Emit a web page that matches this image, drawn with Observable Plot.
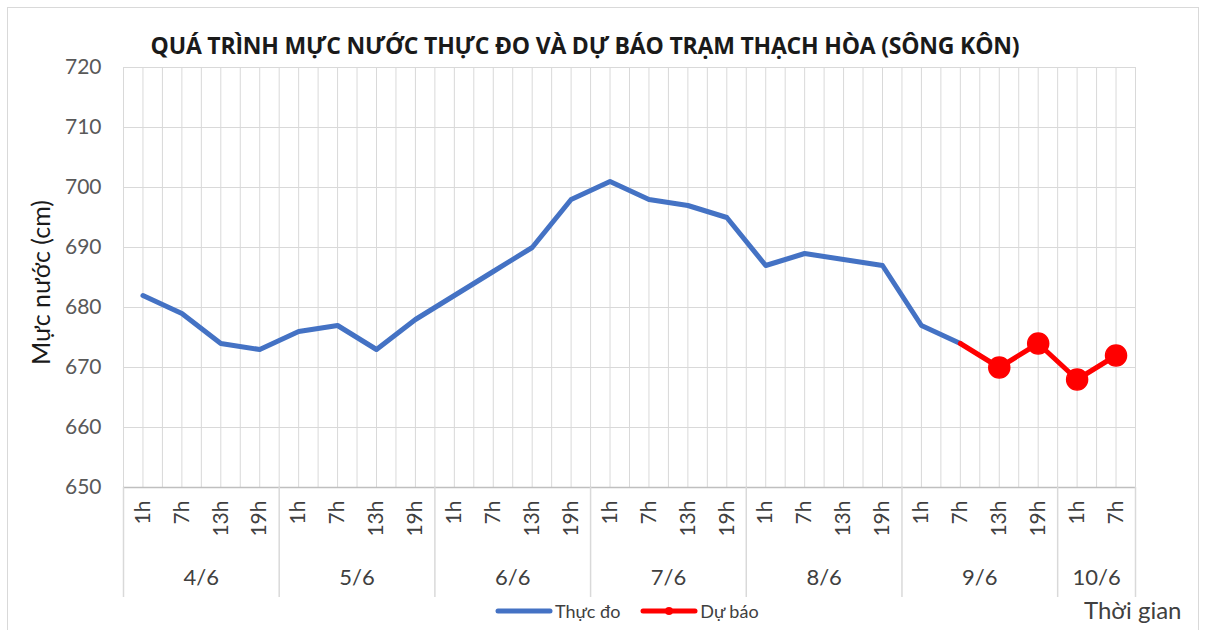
<!DOCTYPE html>
<html>
<head>
<meta charset="utf-8">
<script src="https://cdn.jsdelivr.net/npm/d3@7"></script>
<script src="https://cdn.jsdelivr.net/npm/@observablehq/plot@0.6"></script>
<style>
  html, body { margin: 0; padding: 0; background: #fff; }
  #wrap { position: relative; width: 1206px; height: 630px; overflow: hidden; font-family: Lato, "Open Sans", sans-serif; }
  #border { position: absolute; left: 7px; top: 7px; width: 1192px; height: 640px; border: 1.5px solid #d9d9d9; box-sizing: border-box; }
  #chart { position: absolute; left: 0; top: 0; }
  #title { position: absolute; left: 0; width: 1170px; top: 29px; text-align: center; font-family: "Open Sans", Lato, sans-serif; font-weight: 700; font-size: 23px; color: #1a1a1a; white-space: nowrap; letter-spacing: -0.2px; }
  #legend { position: absolute; top: 600px; left: 495px; display: flex; align-items: center; font-size: 18px; color: #404040; }
  #legend .item { display: flex; align-items: center; margin-right: 20px; }
  #legend svg { margin-right: 2px; }
  #xtitle { position: absolute; left: 1084px; top: 595px; font-size: 24px; color: #404040; }
</style>
</head>
<body>
<div id="wrap">
  <div id="border"></div>
  <div id="chart"></div>
  <div id="title"></div>
  <div id="legend"></div>
  <div id="xtitle"></div>
</div>
<script>
// ---- data ----
const titleText = "QUÁ TRÌNH MỰC NƯỚC THỰC ĐO VÀ DỰ BÁO TRẠM THẠCH HÒA (SÔNG KÔN)";
const yLabel = "Mực nước (cm)";
const xLabel = "Thời gian";
const seriesNames = ["Thực đo", "Dự báo"];
const days = ["4/6", "5/6", "6/6", "7/6", "8/6", "9/6", "10/6"];
const hours = ["1h", "7h", "13h", "19h"];
const hoursPerDay = [4, 4, 4, 4, 4, 4, 2];
const observed = [682, 679, 674, 673, 676, 677, 673, 678, 682, 686, 690, 698, 701, 698, 697, 695, 687, 689, 688, 687, 677, 674];
const forecast = [674, 670, 674, 668, 672]; // starts at last observed point
const yTicks = [650, 660, 670, 680, 690, 700, 710, 720];

// ---- build tables ----
const cats = [];
const dayBounds = [0];
const dayCenters = [];
days.forEach((d, di) => {
  const start = cats.length;
  hours.slice(0, hoursPerDay[di]).forEach(h => cats.push({day: d, hour: h, x: cats.length + 0.5}));
  dayBounds.push(cats.length);
  dayCenters.push({day: d, x: (start + cats.length) / 2});
});
const n = cats.length;
const obsData = observed.map((v, i) => ({x: cats[i].x, y: v}));
const fStart = observed.length - 1;
const fcData = forecast.map((v, i) => ({x: cats[fStart + i].x, y: v}));
const hourLabel = new Map(cats.map(c => [c.x, c.hour]));
const dayLabel = new Map(dayCenters.map(c => [c.x, c.day]));
const gridX = d3.range(0, n + 0.25, 0.5);

const blue = "#4472C4", red = "#FF0000", grid = "#d9d9d9", tickColor = "#595959";

const chart = Plot.plot({
  width: 1206,
  height: 630,
  marginLeft: 123,
  marginRight: 71,
  marginTop: 67,
  marginBottom: 143,
  style: {fontFamily: "Lato, 'Open Sans', sans-serif", background: "transparent"},
  x: {type: "linear", domain: [0, n], axis: null},
  y: {domain: [650, 720], axis: null},
  marks: [
    Plot.ruleY(yTicks, {stroke: grid, strokeWidth: 1.2}),
    Plot.ruleX(gridX, {stroke: grid, strokeWidth: 1}),
    Plot.ruleY([650], {stroke: "#bfbfbf", strokeWidth: 1.5}),
    Plot.axisY({ticks: yTicks, tickSize: 0, tickPadding: 22, fontSize: 21, fill: tickColor, label: null}),
    Plot.axisX({ticks: dayBounds, tickSize: 110, tickFormat: () => "", stroke: grid, strokeWidth: 1.5, label: null}),
    Plot.axisX({ticks: cats.map(c => c.x), tickSize: 0, tickPadding: 13, tickRotate: -90, tickFormat: d => hourLabel.get(d), fontSize: 21, fill: "#404040", label: null}),
    Plot.axisX({ticks: dayCenters.map(c => c.x), tickSize: 0, tickPadding: 82, tickFormat: d => dayLabel.get(d), fontSize: 22, fill: "#404040", label: null}),
    Plot.line(obsData, {x: "x", y: "y", stroke: blue, strokeWidth: 5, strokeLinejoin: "round", strokeLinecap: "round"}),
    Plot.line(fcData, {x: "x", y: "y", stroke: red, strokeWidth: 5, strokeLinejoin: "round"}),
    Plot.dot(fcData.slice(1), {x: "x", y: "y", r: 10.5, fill: red, stroke: red}),
    Plot.text([yLabel], {frameAnchor: "left", textAnchor: "middle", dx: -82, dy: 5, rotate: -90, fontSize: 25, fill: "#1a1a1a", text: d => d})
  ]
});
document.getElementById("chart").appendChild(chart);
document.getElementById("title").textContent = titleText;
document.getElementById("xtitle").textContent = xLabel;

const legend = document.getElementById("legend");
[[blue, false], [red, true]].forEach(([c, dot], i) => {
  const item = document.createElement("div");
  item.className = "item";
  item.innerHTML = `<svg width="58" height="10"><line x1="3" y1="5" x2="55" y2="5" stroke="${c}" stroke-width="5" stroke-linecap="round"/>${dot ? `<circle cx="29" cy="5" r="4" fill="${c}"/>` : ""}</svg><span>${seriesNames[i]}</span>`;
  legend.appendChild(item);
});
</script>
</body>
</html>
